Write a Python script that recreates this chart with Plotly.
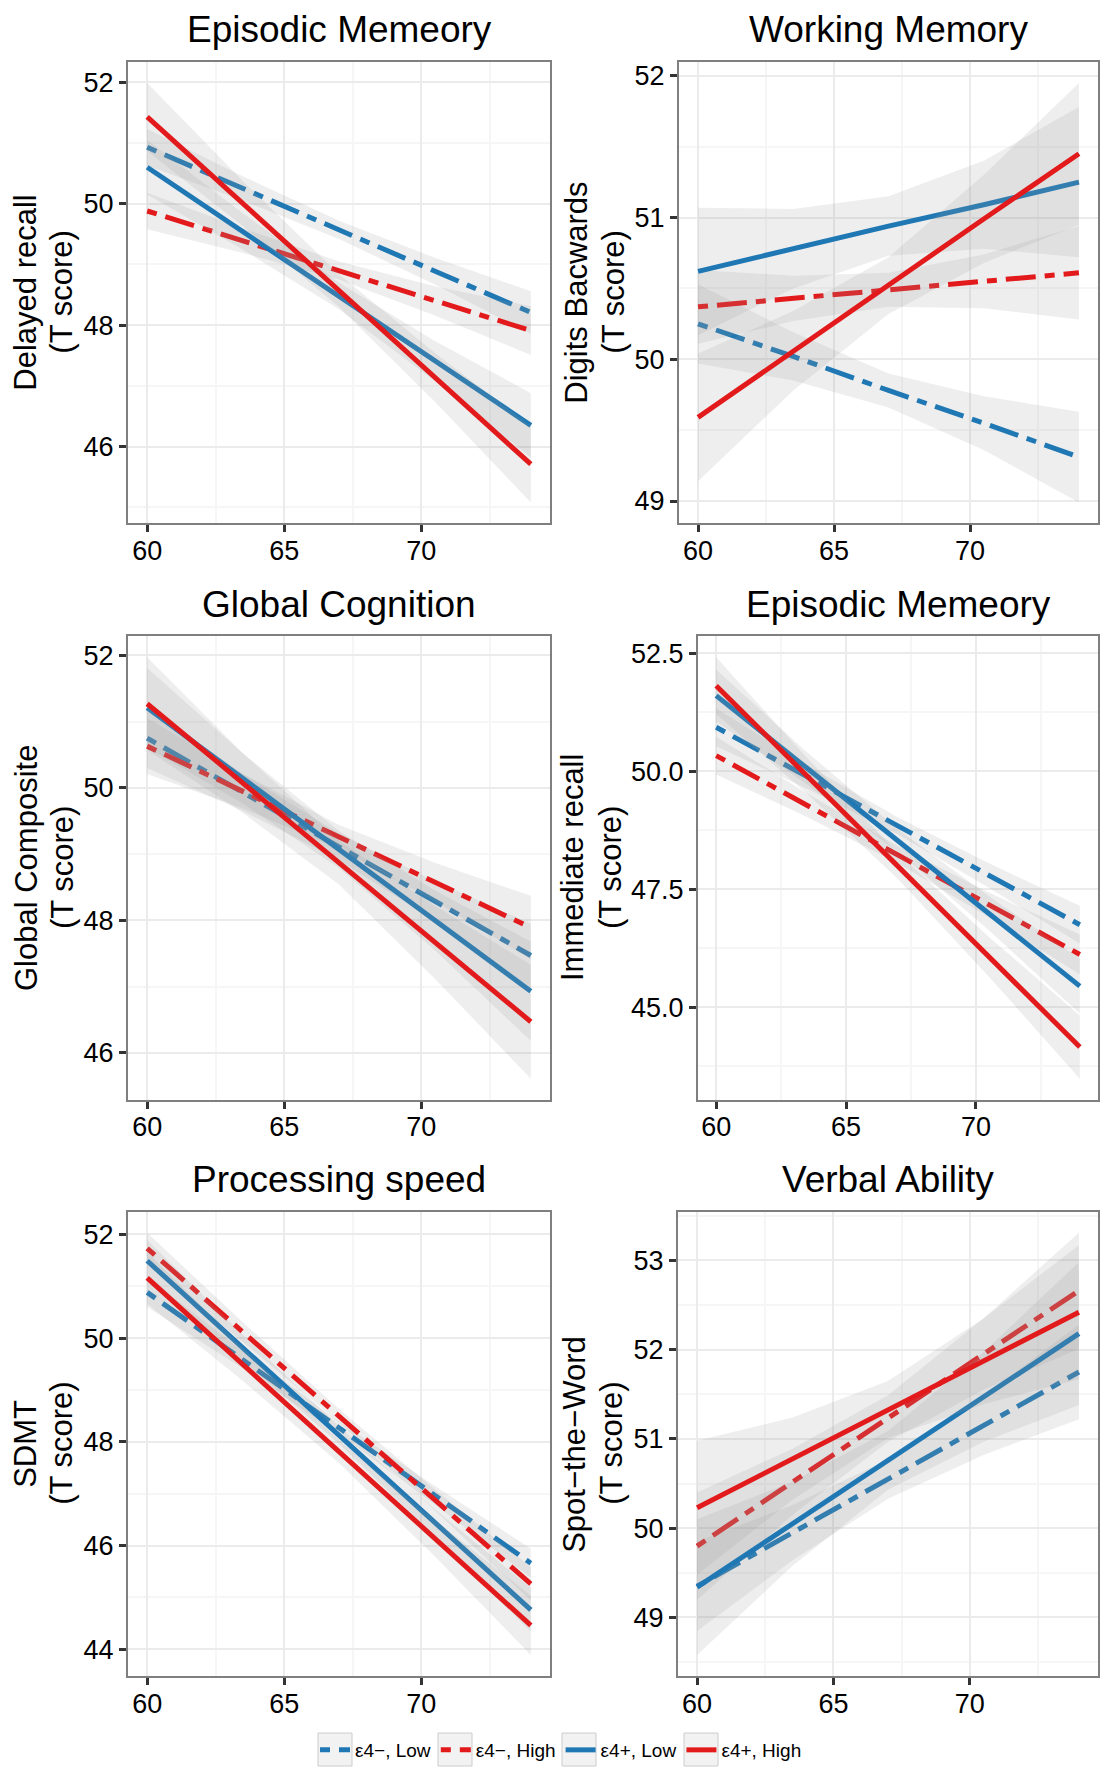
import plotly.graph_objects as go

# ---------------- data ----------------
age = [60, 63.5, 67, 70.5, 74]
x_ticks = [60, 65, 70]
groups = ["ε4−, Low", "ε4−, High", "ε4+, Low", "ε4+, High"]
titles = ["Episodic Memeory", "Working Memory", "Global Cognition",
          "Episodic Memeory", "Processing speed", "Verbal Ability"]
ylabels = ["Delayed recall", "Digits Bacwards", "Global Composite",
           "Immediate recall", "SDMT", "Spot−the−Word"]
ylabel_units = "(T score)"

y_ticks_delayed = [46, 48, 50, 52]
y_ticks_working = [49, 50, 51, 52]
y_ticks_global = [46, 48, 50, 52]
y_ticks_immediate = [45.0, 47.5, 50.0, 52.5]
y_ticks_speed = [44, 46, 48, 50, 52]
y_ticks_verbal = [49, 50, 51, 52, 53]

# fitted values (rows follow `groups`) and CI half-widths at `age`
delayed_fit = [[50.93, 50.25, 49.57, 48.89, 48.21],
               [49.88, 49.39, 48.90, 48.40, 47.91],
               [50.60, 49.54, 48.48, 47.41, 46.35],
               [51.43, 50.00, 48.57, 47.14, 45.71]]
delayed_ci = [[0.30, 0.20, 0.15, 0.22, 0.35],
              [0.30, 0.20, 0.15, 0.24, 0.40],
              [0.45, 0.30, 0.22, 0.33, 0.53],
              [0.56, 0.37, 0.27, 0.40, 0.63]]

working_fit = [[50.25, 50.02, 49.78, 49.55, 49.31],
               [50.37, 50.43, 50.49, 50.55, 50.61],
               [50.62, 50.78, 50.94, 51.09, 51.25],
               [49.59, 50.06, 50.52, 50.99, 51.45]]
working_ci = [[0.28, 0.17, 0.12, 0.19, 0.32],
              [0.26, 0.16, 0.12, 0.19, 0.33],
              [0.45, 0.28, 0.21, 0.31, 0.53],
              [0.45, 0.28, 0.20, 0.31, 0.50]]

global_fit = [[50.75, 49.93, 49.11, 48.29, 47.47],
              [50.63, 49.95, 49.26, 48.58, 47.89],
              [51.21, 50.14, 49.07, 48.00, 46.93],
              [51.27, 50.07, 48.87, 47.67, 46.47]]
global_ci = [[0.45, 0.28, 0.20, 0.30, 0.48],
             [0.42, 0.26, 0.18, 0.29, 0.48],
             [0.60, 0.38, 0.28, 0.45, 0.75],
             [0.70, 0.45, 0.33, 0.55, 0.86]]

immediate_fit = [[50.93, 49.88, 48.84, 47.79, 46.75],
                 [50.33, 49.28, 48.23, 47.17, 46.12],
                 [51.60, 50.06, 48.53, 46.99, 45.45],
                 [51.81, 49.90, 47.99, 46.07, 44.16]]
immediate_ci = [[0.40, 0.25, 0.18, 0.26, 0.40],
                [0.40, 0.25, 0.18, 0.26, 0.42],
                [0.55, 0.34, 0.24, 0.36, 0.58],
                [0.60, 0.38, 0.27, 0.42, 0.67]]

speed_fit = [[50.88, 49.58, 48.27, 46.97, 45.66],
             [51.73, 50.11, 48.50, 46.88, 45.26],
             [51.49, 49.81, 48.13, 46.44, 44.76],
             [51.16, 49.49, 47.81, 46.14, 44.46]]
speed_ci = [[0.28, 0.17, 0.12, 0.18, 0.28],
            [0.30, 0.19, 0.13, 0.20, 0.32],
            [0.40, 0.25, 0.17, 0.26, 0.42],
            [0.50, 0.32, 0.22, 0.35, 0.57]]

verbal_fit = [[49.35, 49.95, 50.55, 51.15, 51.75],
              [49.80, 50.52, 51.23, 51.95, 52.66],
              [49.34, 50.05, 50.76, 51.47, 52.18],
              [50.23, 50.78, 51.33, 51.87, 52.42]]
verbal_ci = [[0.50, 0.31, 0.22, 0.33, 0.53],
             [0.60, 0.37, 0.26, 0.40, 0.65],
             [0.76, 0.47, 0.33, 0.50, 0.80],
             [0.75, 0.46, 0.32, 0.48, 0.75]]

# ---------------- styling / layout ----------------
W, H = 1103, 1769
FONT = "Liberation Sans, Arial, Helvetica, sans-serif"
BLUE, RED = "#1F78B4", "#E31A1C"
colors = [BLUE, RED, BLUE, RED]
dashes = ["10px,9px,30px,9px", "10px,9px,30px,9px", "solid", "solid"]
RIBBON = "rgba(153,153,153,0.17)"

panels = [
    (delayed_fit, delayed_ci, y_ticks_delayed, None),
    (working_fit, working_ci, y_ticks_working, None),
    (global_fit, global_ci, y_ticks_global, None),
    (immediate_fit, immediate_ci, y_ticks_immediate, ".1f"),
    (speed_fit, speed_ci, y_ticks_speed, None),
    (verbal_fit, verbal_ci, y_ticks_verbal, None),
]

# panel boxes in pixels (left, right, top, bottom)
boxes = [(128, 550, 62, 524), (679, 1098, 62, 524),
         (128, 550, 637, 1101), (698, 1098, 637, 1101),
         (128, 550, 1213, 1678), (678, 1098, 1213, 1678)]
ylab_x = [(26, 62), (577, 614), (26, 62), (572, 610), (26, 62), (575, 612)]

fig = go.Figure()
annotations = []
layout = {}

for i, (fit, ci, yt, fmt) in enumerate(panels):
    n = i + 1
    xa = "x" if n == 1 else f"x{n}"
    ya = "y" if n == 1 else f"y{n}"
    for g in range(4):
        lo = [f - c for f, c in zip(fit[g], ci[g])]
        hi = [f + c for f, c in zip(fit[g], ci[g])]
        fig.add_trace(go.Scatter(
            x=age + age[::-1], y=hi + lo[::-1], fill="toself",
            fillcolor=RIBBON, line=dict(width=0), mode="lines",
            hoverinfo="skip", showlegend=False, xaxis=xa, yaxis=ya))
        fig.add_trace(go.Scatter(
            x=age, y=fit[g], mode="lines", name=groups[g],
            line=dict(color=colors[g], width=5, dash=dashes[g]),
            showlegend=(i == 0), legendgroup=groups[g],
            xaxis=xa, yaxis=ya))

    all_lo = min(f - c for fr, cr in zip(fit, ci) for f, c in zip(fr, cr))
    all_hi = max(f + c for fr, cr in zip(fit, ci) for f, c in zip(fr, cr))
    pad = 0.05 * (all_hi - all_lo)
    xpad = 0.05 * (age[-1] - age[0])

    l, r, t, b = boxes[i]
    common = dict(showline=True, mirror=True, linecolor="#7F7F7F", linewidth=2,
                  ticks="outside", ticklen=7, tickwidth=2.5, tickcolor="#333333",
                  showgrid=True, gridcolor="#EBEBEB", gridwidth=1.5,
                  zeroline=False, tickfont=dict(family=FONT, size=27, color="black"))
    step = yt[1] - yt[0]
    layout["xaxis" if n == 1 else f"xaxis{n}"] = dict(
        domain=[l / W, r / W], anchor=ya,
        range=[age[0] - xpad, age[-1] + xpad],
        tickvals=x_ticks, ticklabelstandoff=-5,
        minor=dict(tickvals=[62.5, 67.5, 72.5], showgrid=True,
                   gridcolor="#F6F6F6", gridwidth=1.5, ticks=""),
        **common)
    layout["yaxis" if n == 1 else f"yaxis{n}"] = dict(
        domain=[1 - b / H, 1 - t / H], anchor=xa,
        range=[all_lo - pad, all_hi + pad],
        tickvals=yt, tickformat=fmt if fmt else None,
        minor=dict(dtick=step / 2, tick0=yt[0], showgrid=True,
                   gridcolor="#F6F6F6", gridwidth=1.5, ticks=""),
        **common)

    annotations.append(dict(
        text=titles[i], x=(l + r) / 2 / W, y=1 - (t - 32) / H,
        xref="paper", yref="paper", showarrow=False,
        xanchor="center", yanchor="middle",
        font=dict(family=FONT, size=37, color="black")))
    for txt, xp in zip([ylabels[i], ylabel_units], ylab_x[i]):
        annotations.append(dict(
            text=txt, x=xp / W, y=1 - (t + b) / 2 / H,
            xref="paper", yref="paper", showarrow=False, textangle=-90,
            xanchor="center", yanchor="middle",
            font=dict(family=FONT, size=31, color="black")))

# light key boxes behind the legend symbols (ggplot-style legend keys)
key_boxes = [(318, 352), (438, 472), (562, 596), (684, 718)]
shapes = [dict(type="rect", xref="paper", yref="paper",
               x0=a / W, x1=c / W, y0=1 - 1768 / H, y1=1 - 1735 / H,
               fillcolor="#F2F2F2", line=dict(color="#CCCCCC", width=1),
               layer="below") for a, c in key_boxes]

fig.update_layout(
    width=W, height=H, margin=dict(l=0, r=0, t=0, b=0),
    paper_bgcolor="white", plot_bgcolor="white",
    annotations=annotations, shapes=shapes,
    legend=dict(orientation="h", x=561 / W, xanchor="center",
                y=1 - 1752 / H, yanchor="middle",
                bgcolor="rgba(0,0,0,0)",
                font=dict(family=FONT, size=19, color="black"),
                itemwidth=30, tracegroupgap=0),
    **layout)

fig.write_html("out.html",
               config={"displayModeBar": False},
               post_script="document.body.style.margin='0px';"
                           "document.body.style.overflow='hidden';")
